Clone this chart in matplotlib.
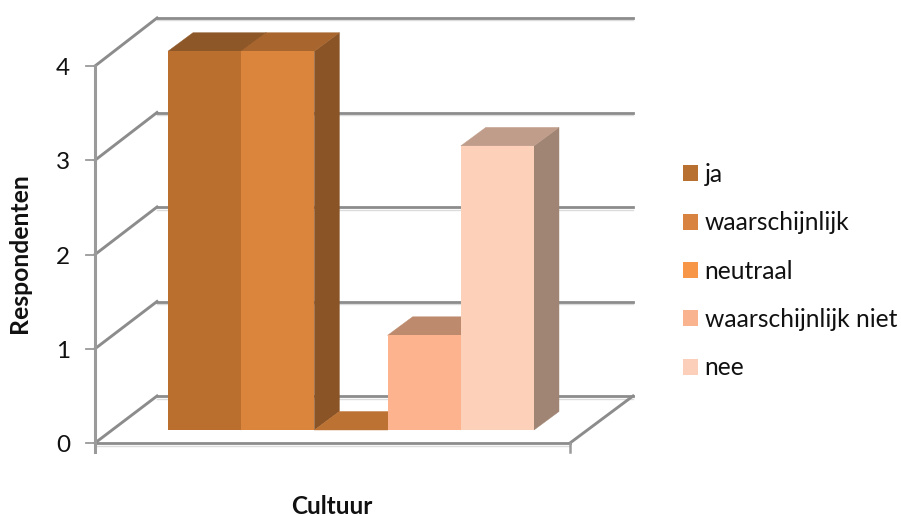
"""Pseudo-3D clustered column chart of survey answers for one category."""

from __future__ import annotations

import matplotlib

matplotlib.use("Agg")
import matplotlib.pyplot as plt
from matplotlib.patches import Patch, Polygon

answers = ["ja", "waarschijnlijk", "neutraal", "waarschijnlijk niet", "nee"]
counts = [4, 4, 0, 1, 3]
y_ticks = [0, 1, 2, 3, 4]
y_label = "Respondenten"
x_label = "Cultuur"

legend_colors = ["#B87030", "#D8833F", "#F79646", "#F9B48F", "#FBCFBA"]
front_colors = ["#BA6F2F", "#DB843C", "#F79646", "#FDB48E", "#FDD0BA"]
top_colors = ["#8D5727", "#A8652E", "#BC7232", "#BE8A6D", "#C09C8A"]
side_colors = ["#8A5427", "#8A5427", "#8A5427", "#A0806A", "#A08574"]

# scale of the plot: pixels per category and per respondent
WIDTH, HEIGHT = 901, 516
PX_X, PX_Y = 73.2, 94.7
BAR_LEFT, BAR_BASE = 168, 430


def dx(px: float) -> float:
    return px / PX_X


def dy(px: float) -> float:
    return px / PX_Y


plt.rcParams["font.family"] = "Lato"
fig = plt.figure(figsize=(WIDTH / 100, HEIGHT / 100), dpi=100)
ax = fig.add_axes([0, 0, 1, 1])
ax.set_xlim(dx(-BAR_LEFT), dx(WIDTH - BAR_LEFT))
ax.set_ylim(dy(BAR_BASE - HEIGHT), dy(BAR_BASE))
ax.axis("off")

GRID = "#8C8C8C"
AXIS = "#9A9A9A"
SHADOW = "#DCDCDC"

# corners of the box around the bars, relative to the base of the first bar
front_l, front_r = dx(95 - BAR_LEFT), dx(570 - BAR_LEFT)
back_l, back_r = dx(157 - BAR_LEFT), dx(633 - BAR_LEFT)
front_y, back_y = dy(BAR_BASE - 443), dy(BAR_BASE - 396)
back_scale = 94.5 / PX_Y
front_scale = 94.25 / PX_Y

for v in y_ticks:
    yf = front_y + v * front_scale
    yb = back_y + v * back_scale
    ax.plot([back_l, back_r], [yb - dy(2.5), yb - dy(2.5)], color=SHADOW, lw=1.0, zorder=1)
    ax.plot([back_l, back_r], [yb, yb], color=GRID, lw=2.0, zorder=2)
    ax.plot([front_l, back_l], [yf, yb], color=GRID, lw=2.1, zorder=2)
    ax.plot([front_l - dx(9), front_l], [yf, yf], color=AXIS, lw=1.3, zorder=2)
    ax.text(front_l - dx(32), yf - dy(2.5), str(v), ha="center", va="center", fontsize=17.5, color="#111111")

# floor edges and the y axis
ax.plot([front_l, front_r], [front_y - dy(2.5), front_y - dy(2.5)], color=SHADOW, lw=1.0, zorder=1)
ax.plot([front_l, front_r], [front_y, front_y], color=GRID, lw=2.0, zorder=2)
ax.plot([front_r, back_r], [front_y, back_y], color=GRID, lw=2.1, zorder=2)
ax.plot([front_l, front_l], [front_y - dy(9), front_y + 4 * front_scale], color=AXIS, lw=2.2, zorder=2)
ax.plot([front_r, front_r], [front_y - dy(9), front_y], color=AXIS, lw=1.8, zorder=2)

depth_x, depth_y = dx(25), dy(18.5)
for i, v in enumerate(counts):
    z = 3 + i
    ax.add_patch(
        Polygon(
            [(i + 1, 0), (i + 1 + depth_x, depth_y), (i + 1 + depth_x, v + depth_y), (i + 1, v)],
            fc=side_colors[i],
            ec=side_colors[i],
            lw=0.3,
            zorder=z,
        )
    )
    ax.add_patch(
        Polygon(
            [(i, v), (i + 1, v), (i + 1 + depth_x, v + depth_y), (i + depth_x, v + depth_y)],
            fc=top_colors[i],
            ec=top_colors[i],
            lw=0.3,
            zorder=z + 0.1,
        )
    )
    ax.add_patch(Polygon([(i, 0), (i + 1, 0), (i + 1, v), (i, v)], fc=front_colors[i], ec="none", zorder=z + 0.2))

ax.text(dx(19 - BAR_LEFT), dy(BAR_BASE - 253), y_label, rotation=90, ha="center", va="center", fontsize=17.8, fontweight="bold", color="#111111")
ax.text(dx(332 - BAR_LEFT), dy(BAR_BASE - 506), x_label, ha="center", va="center", fontsize=17.5, fontweight="bold", color="#111111")

handles = [Patch(fc=c, ec="none") for c in legend_colors]
ax.legend(
    handles,
    answers,
    loc="upper left",
    bbox_to_anchor=(683 / WIDTH, 1 - 163 / HEIGHT),
    bbox_transform=fig.transFigure,
    frameon=False,
    fontsize=17.7,
    handlelength=0.62,
    handleheight=0.62,
    handletextpad=0.26,
    labelspacing=1.03,
    borderpad=0,
    borderaxespad=0,
    labelcolor="#111111",
)

fig.savefig("out.png", dpi=100)
